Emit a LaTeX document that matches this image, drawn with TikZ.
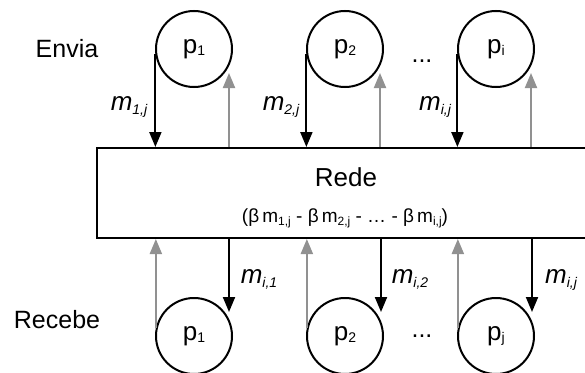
\documentclass[tikz,border=0pt]{standalone}
\usepackage{fontspec}
\setmainfont{Liberation Sans}
\usetikzlibrary{arrows.meta}
\definecolor{arrgray}{RGB}{145,145,145}
\newcommand\sbs[1]{\raisebox{-0.35ex}{\fontsize{14}{16}\selectfont #1}}
\newcommand\fsb[1]{\raisebox{-0.35ex}{\fontsize{12}{13}\selectfont #1}}
\newcommand\psb[1]{\raisebox{-0.15ex}{\fontsize{14}{15}\selectfont #1}}
\begin{document}
\begin{tikzpicture}[x=1pt,y=-1pt,
  proc/.style={circle,draw,line width=2pt,minimum size=76pt,inner sep=0pt,font=\fontsize{26}{28}\selectfont},
  blk/.style={line width=2pt,-{Triangle[length=15pt,width=12pt]}},
  gry/.style={draw=arrgray,line width=2pt,-{Triangle[length=15pt,width=12pt]},arrgray},
  lbl/.style={font=\fontsize{25}{28}\selectfont,inner sep=0pt,anchor=base},
  mlbl/.style={font=\fontsize{26}{28}\selectfont\itshape,inner sep=0pt,anchor=base}]
\useasboundingbox (0,0) rectangle (585,372);
\begin{scope}
\clip (0,0) rectangle (585,372);
% network box
\node[draw,line width=2pt,minimum width=500pt,minimum height=90pt,anchor=north west,inner sep=0pt] (rede) at (96,147) {};
\node[lbl,font=\fontsize{26}{28}\selectfont] (redet) at (346,186) {Rede};
\node[font=\fontsize{19}{22}\selectfont,inner sep=0pt,anchor=base] (form) at (345,222)
  {(β\,m\fsb{1,j} - β\,m\fsb{2,j} - … - β\,m\fsb{i,j})};
% senders
\node[proc] (s1) at (194,49) {p\psb{1}};
\node[proc] (s2) at (345,49) {p\psb{2}};
\node[proc] (s3) at (496,49) {p\psb{i}};
% receivers
\node[proc] (r1) at (194,336) {p\psb{1}};
\node[proc] (r2) at (345,336) {p\psb{2}};
\node[proc] (r3) at (496,336) {p\psb{j}};
% labels
\node[lbl] (envia) at (67,57) {Envia};
\node[lbl] (recebe) at (57,328) {Recebe};
\node[lbl] (dt) at (422,62) {...};
\node[lbl] (db) at (422,337) {...};
\node[mlbl] (m1) at (129,110) {m\sbs{1,j}};
\node[mlbl] (m2) at (281,110) {m\sbs{2,j}};
\node[mlbl] (m3) at (435,110) {m\sbs{i,j}};
\node[mlbl] (n1) at (259,283) {m\sbs{i,1}};
\node[mlbl] (n2) at (410,283) {m\sbs{i,2}};
\node[mlbl] (n3) at (561,283) {m\sbs{i,j}};
% free ends
\coordinate (g1) at (229,73);
\coordinate (g2) at (380,73);
\coordinate (g3) at (531,73);
\coordinate (b1) at (229,312);
\coordinate (b2) at (381,312);
\coordinate (b3) at (532,312);
% top arrows
\draw[blk] (s1.188) -- (s1.188 |- rede.north);
\draw[blk] (s2.188) -- (s2.188 |- rede.north);
\draw[blk] (s3.188) -- (s3.188 |- rede.north);
\draw[gry] (g1 |- rede.north) -- (g1);
\draw[gry] (g2 |- rede.north) -- (g2);
\draw[gry] (g3 |- rede.north) -- (g3);
% bottom arrows
\draw[blk] (b1 |- rede.south) -- (b1);
\draw[blk] (b2 |- rede.south) -- (b2);
\draw[blk] (b3 |- rede.south) -- (b3);
\draw[gry] (r1.168) -- (r1.168 |- rede.south);
\draw[gry] (r2.168) -- (r2.168 |- rede.south);
\draw[gry] (r3.168) -- (r3.168 |- rede.south);
\end{scope}
\end{tikzpicture}
\end{document}
